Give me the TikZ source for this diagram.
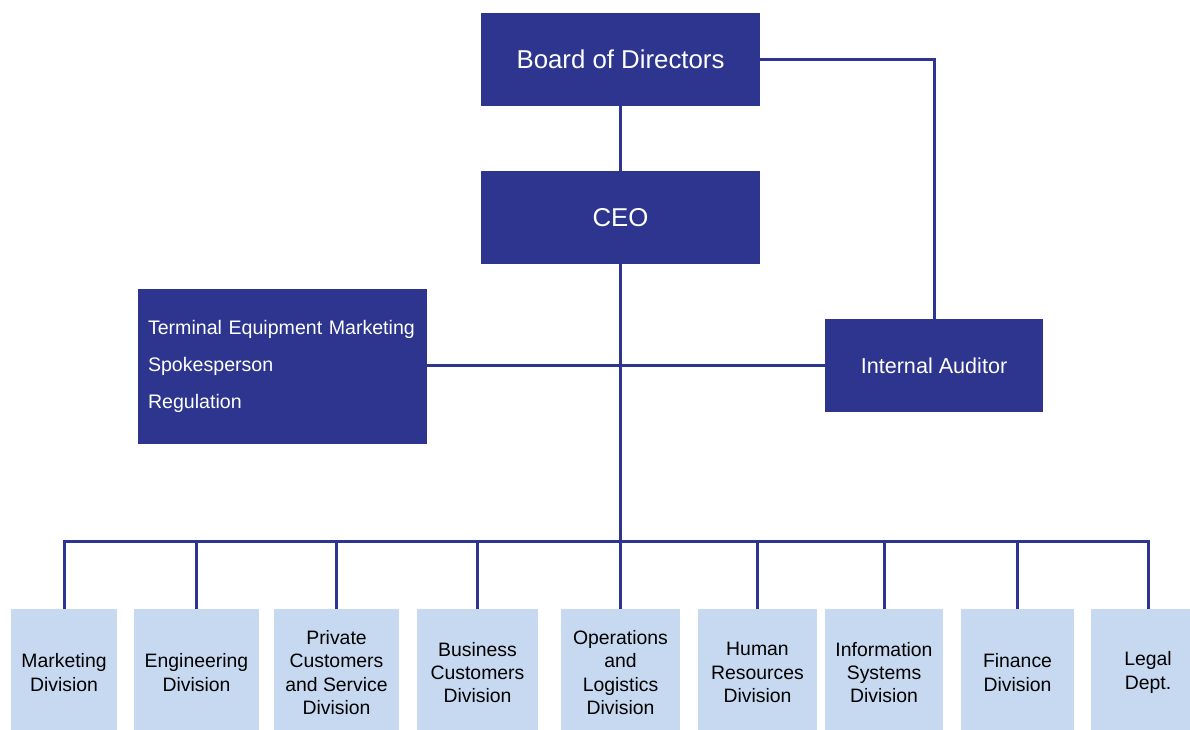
\documentclass[tikz,border=0pt]{standalone}
\usepackage{fontspec}
\setmainfont{Liberation Sans}
\definecolor{navy}{RGB}{45,53,143}
\definecolor{pale}{RGB}{198,217,240}
\tikzset{
  topbox/.style={fill=navy, draw=none, text=white, inner sep=0pt, align=center},
  divbox/.style={fill=pale, draw=none, text=black, inner sep=0pt, align=center,
    minimum height=127pt, font=\fontsize{19.4}{23.4}\selectfont},
  link/.style={draw=navy, line width=3pt},
}
\begin{document}
\begin{tikzpicture}[x=1pt,y=-1pt]
\useasboundingbox (0,0) rectangle (1190,729);
\clip (0,0) rectangle (1190,729);
\fill[white] (0,0) rectangle (1190,729);
% top boxes
\node[topbox, minimum width=279pt, minimum height=93pt, font=\fontsize{25.8}{30}\selectfont] (board) at (620.5,59.5) {Board of Directors};
\node[topbox, minimum width=279pt, minimum height=93pt, font=\fontsize{25.8}{30}\selectfont] (ceo) at (620.5,217.5) {CEO};
\node[topbox, minimum width=218pt, minimum height=93pt, font=\fontsize{21.6}{26}\selectfont] (aud) at (934,365.5) {Internal Auditor};
\node[topbox, align=left, minimum width=289pt, minimum height=155pt, text width=269pt, inner xsep=10pt, inner ysep=0pt, font=\fontsize{19.6}{36.8}\selectfont] (staff) at (282.5,366.5) {Terminal Equipment Marketing\\Spokesperson\\Regulation};
% divisions
\node[divbox, minimum width=106pt] (d1) at (64,672.5) {Marketing\\Division};
\node[divbox, minimum width=125pt] (d2) at (196.5,672.5) {Engineering\\Division};
\node[divbox, minimum width=125pt] (d3) at (336.5,672.5) {Private\\Customers\\and Service\\Division};
\node[divbox, minimum width=121pt] (d4) at (477.5,672.5) {Business\\Customers\\Division};
\node[divbox, minimum width=119pt] (d5) at (620.5,672.5) {Operations\\and\\Logistics\\Division};
\node[divbox, minimum width=119pt] (d6) at (757.5,672.5) {Human\\Resources\\Division};
\node[divbox, minimum width=118pt] (d7) at (884,672.5) {Information\\Systems\\Division};
\node[divbox, minimum width=113pt] (d8) at (1017.5,672.5) {Finance\\Division};
\node[divbox, minimum width=114pt] (d9) at (1148,672.5) {Legal\\Dept.};
% connectors
\coordinate (bus) at (620.5,541);
\draw[link] (board.south) -- (ceo.north);
\draw[link] (board.east) -| (aud.north);
\draw[link] (staff.east |- aud.west) -- (aud.west);
\draw[link] (ceo.south) -- (bus);
\draw[link] (d1.north) -- (d1.north |- bus) -- (d9.north |- bus) -- (d9.north);
\foreach \i in {2,...,8} {\draw[link] (d\i.north) -- (d\i.north |- bus);}
\end{tikzpicture}
\end{document}
